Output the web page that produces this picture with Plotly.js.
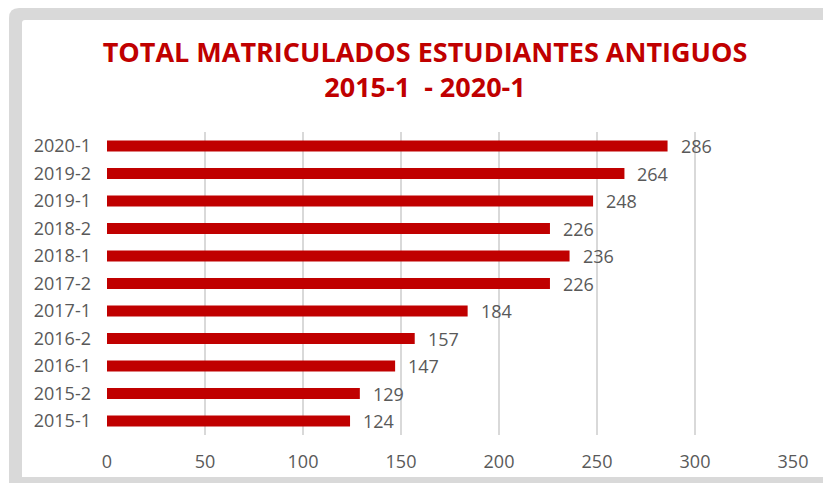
<!DOCTYPE html>
<html>
<head>
<meta charset="utf-8">
<script src="https://cdn.plot.ly/plotly-3.0.1.min.js"></script>
<style>html,body{margin:0;padding:0;background:#fff;overflow:hidden}#chart{width:823px;height:483px}</style>
</head>
<body>
<div id="chart"></div>
<script>
const categories = ['2015-1','2015-2','2016-1','2016-2','2017-1','2017-2','2018-1','2018-2','2019-1','2019-2','2020-1'];
const matriculados = [124,129,147,157,184,226,236,226,248,264,286];
const xTicks = [0,50,100,150,200,250,300,350];

const W = 823, H = 483;
const M = {l:107, r:30, t:132, b:48};
const pw = W - M.l - M.r, ph = H - M.t - M.b;
const px = x => (x - M.l) / pw;
const py = y => (H - M.b - y) / ph;
function roundRect(x0, y0, x1, y1, r) {
  return `M${px(x0 + r)},${py(y0)} L${px(x1)},${py(y0)} L${px(x1)},${py(y1)} L${px(x0)},${py(y1)} L${px(x0)},${py(y0 + r)} Q${px(x0)},${py(y0)} ${px(x0 + r)},${py(y0)} Z`;
}

const trace = {
  type: 'bar',
  orientation: 'h',
  y: categories,
  x: matriculados,
  marker: {color: '#c00000'},
  hoverinfo: 'x+y'
};

const annotations = categories.map((c, i) => ({
  x: matriculados[i], y: c, xref: 'x', yref: 'y',
  text: String(matriculados[i]), showarrow: false,
  xanchor: 'left', yanchor: 'middle', xshift: 11,
  font: {family: 'Open Sans, sans-serif', size: 18, color: '#595959'}
}));

const layout = {
  width: W, height: H,
  margin: M,
  paper_bgcolor: '#ffffff',
  plot_bgcolor: 'rgba(0,0,0,0)',
  showlegend: false,
  bargap: 0.6,
  title: {
    text: '<b>TOTAL MATRICULADOS ESTUDIANTES ANTIGUOS<br>2015-1\u00a0 - 2020-1</b>',
    x: 425 / W, xref: 'container', xanchor: 'center',
    y: 1 - 62 / H, yref: 'container', yanchor: 'top',
    font: {family: 'Open Sans, sans-serif', size: 27, color: '#c00000'}
  },
  xaxis: {
    range: [0, 350],
    tickvals: xTicks,
    showgrid: true, gridcolor: '#d9d9d9', gridwidth: 1.3,
    zeroline: false, showline: false, ticks: '',
    ticklabelstandoff: 14,
    tickfont: {family: 'Open Sans, sans-serif', size: 18, color: '#595959'},
    fixedrange: true
  },
  yaxis: {
    type: 'category',
    showgrid: false, zeroline: false, showline: false, ticks: '',
    ticklabelstandoff: 15,
    tickfont: {family: 'Open Sans, sans-serif', size: 18, color: '#595959'},
    fixedrange: true
  },
  annotations: annotations,
  shapes: [
    {type: 'path', xref: 'paper', yref: 'paper', layer: 'below',
     path: roundRect(9, 8, 900, 560, 10), fillcolor: '#d9d9d9', line: {width: 0}},
    {type: 'path', xref: 'paper', yref: 'paper', layer: 'below',
     path: roundRect(22, 20, 900, 477, 3), fillcolor: '#ffffff', line: {width: 0}}
  ]
};

Plotly.newPlot('chart', [trace], layout, {displayModeBar: false, staticPlot: true});
</script>
</body>
</html>
